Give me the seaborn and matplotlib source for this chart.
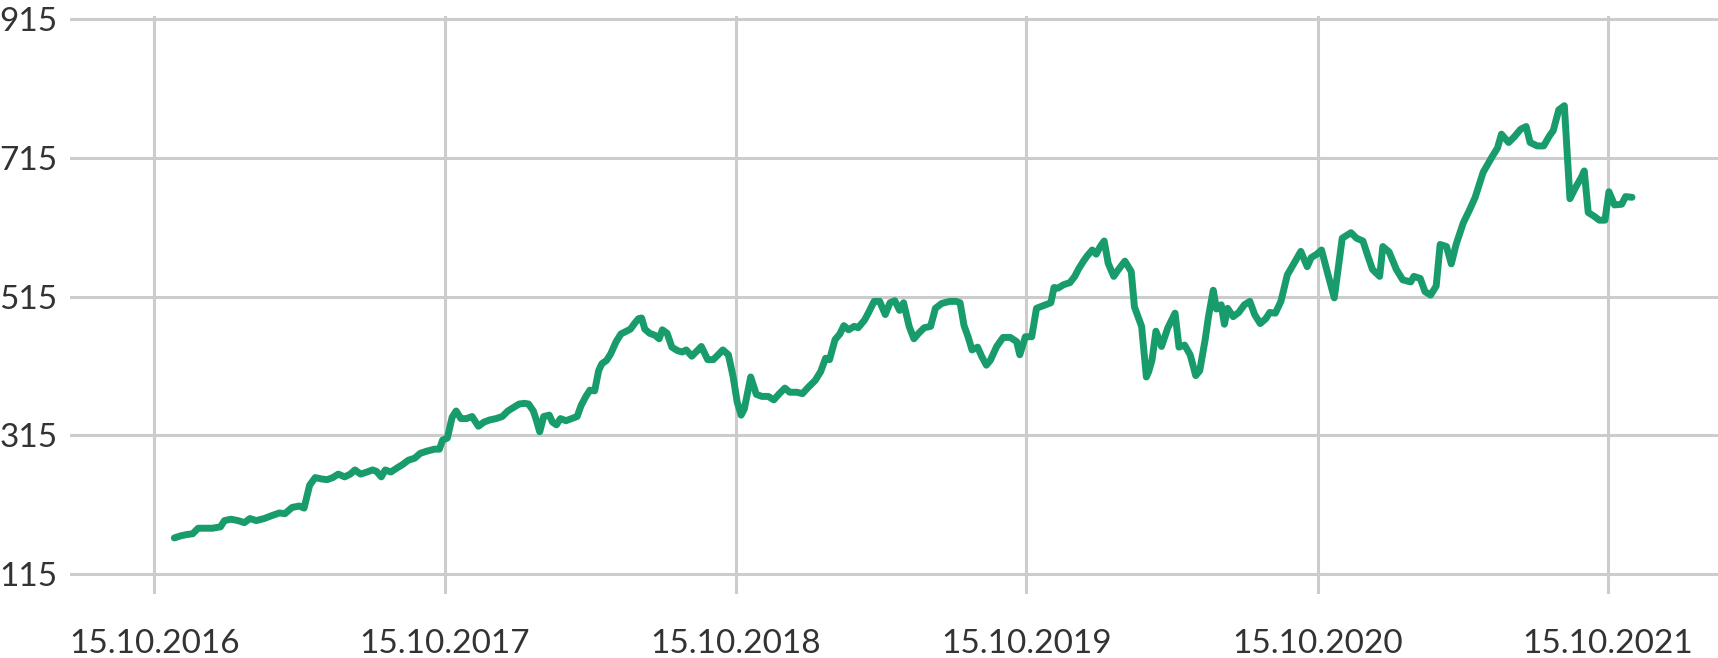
import pandas as pd
import seaborn as sns
import matplotlib.pyplot as plt

# values
dates = [
    "2016-11-09", "2016-11-17", "2016-11-25", "2016-12-02", "2016-12-09", "2016-12-19", "2016-12-27",
    "2017-01-06", "2017-01-11", "2017-01-19", "2017-01-28", "2017-02-05", "2017-02-12", "2017-02-20",
    "2017-03-02", "2017-03-11", "2017-03-21", "2017-03-28", "2017-04-06", "2017-04-15", "2017-04-21",
    "2017-04-28", "2017-05-05", "2017-05-13", "2017-05-20", "2017-05-27", "2017-06-03", "2017-06-11",
    "2017-06-18", "2017-06-24", "2017-07-01", "2017-07-09", "2017-07-16", "2017-07-21", "2017-07-27",
    "2017-08-01", "2017-08-08", "2017-08-16", "2017-08-23", "2017-08-30", "2017-09-07", "2017-09-14",
    "2017-09-22", "2017-10-02", "2017-10-08", "2017-10-12",
    "2017-10-18", "2017-10-24", "2017-10-29", "2017-11-04", "2017-11-11", "2017-11-18", "2017-11-26",
    "2017-12-03", "2017-12-10", "2017-12-18", "2017-12-26", "2018-01-02", "2018-01-09", "2018-01-16",
    "2018-01-23", "2018-01-28", "2018-02-03", "2018-02-07", "2018-02-11", "2018-02-16", "2018-02-23",
    "2018-02-27", "2018-03-04", "2018-03-09", "2018-03-16", "2018-03-23", "2018-03-30", "2018-04-04",
    "2018-04-10", "2018-04-15", "2018-04-21", "2018-04-26", "2018-04-30", "2018-05-06", "2018-05-11",
    "2018-05-18", "2018-05-24", "2018-05-31", "2018-06-05", "2018-06-10", "2018-06-15", "2018-06-19",
    "2018-06-23", "2018-06-29", "2018-07-06", "2018-07-11", "2018-07-15", "2018-07-21", "2018-07-27",
    "2018-08-03", "2018-08-09", "2018-08-14", "2018-08-21", "2018-08-28", "2018-09-02", "2018-09-10",
    "2018-09-17", "2018-09-24", "2018-09-29", "2018-10-06", "2018-10-12",
    "2018-10-17", "2018-10-22", "2018-10-26", "2018-11-03", "2018-11-10", "2018-11-17", "2018-11-25",
    "2018-12-02", "2018-12-09", "2018-12-16", "2018-12-22", "2018-12-31", "2019-01-07", "2019-01-15",
    "2019-01-23", "2019-01-30", "2019-02-05", "2019-02-10", "2019-02-17", "2019-02-23", "2019-02-28",
    "2019-03-06", "2019-03-13", "2019-03-18", "2019-03-26", "2019-04-01", "2019-04-07", "2019-04-14",
    "2019-04-21", "2019-04-27", "2019-05-03", "2019-05-09", "2019-05-14", "2019-05-21", "2019-05-27",
    "2019-06-02", "2019-06-09", "2019-06-17", "2019-06-23", "2019-07-01", "2019-07-11", "2019-07-19",
    "2019-07-24", "2019-07-29", "2019-08-03", "2019-08-08", "2019-08-15", "2019-08-20", "2019-08-26",
    "2019-08-31", "2019-09-08", "2019-09-16", "2019-09-25", "2019-10-03", "2019-10-07", "2019-10-14",
    "2019-10-22", "2019-10-28", "2019-11-06", "2019-11-15", "2019-11-19", "2019-11-24", "2019-12-01",
    "2019-12-09", "2019-12-15", "2019-12-20", "2019-12-26", "2019-12-31", "2020-01-06", "2020-01-11",
    "2020-01-16", "2020-01-21", "2020-01-26", "2020-02-02", "2020-02-08", "2020-02-16", "2020-02-24",
    "2020-02-28", "2020-03-08", "2020-03-14", "2020-03-17", "2020-03-21", "2020-03-26", "2020-04-02",
    "2020-04-10", "2020-04-19", "2020-04-24", "2020-05-01", "2020-05-08", "2020-05-15", "2020-05-20",
    "2020-05-27", "2020-05-31", "2020-06-06", "2020-06-10", "2020-06-16", "2020-06-20", "2020-06-24",
    "2020-07-01", "2020-07-08", "2020-07-15", "2020-07-22", "2020-07-28", "2020-08-04", "2020-08-11",
    "2020-08-16", "2020-08-23", "2020-08-30", "2020-09-07", "2020-09-15", "2020-09-24", "2020-10-02",
    "2020-10-07", "2020-10-14",
    "2020-10-20", "2020-10-28", "2020-11-05", "2020-11-15", "2020-11-26", "2020-12-03", "2020-12-11",
    "2020-12-17", "2020-12-23", "2021-01-01", "2021-01-05", "2021-01-13", "2021-01-22", "2021-01-30",
    "2021-02-09", "2021-02-13", "2021-02-21", "2021-02-27", "2021-03-06", "2021-03-13", "2021-03-18",
    "2021-03-26", "2021-04-01", "2021-04-07", "2021-04-16", "2021-04-24", "2021-05-01", "2021-05-11",
    "2021-05-22", "2021-05-29", "2021-06-03", "2021-06-12", "2021-06-19", "2021-06-27", "2021-07-04",
    "2021-07-09", "2021-07-18", "2021-07-26", "2021-08-02", "2021-08-07", "2021-08-14", "2021-08-21",
    "2021-08-28", "2021-09-04", "2021-09-11", "2021-09-15", "2021-09-20", "2021-09-27", "2021-10-04",
    "2021-10-11",
    "2021-10-16", "2021-10-23", "2021-11-01", "2021-11-06", "2021-11-14",
]

prices = [
    167, 170, 172, 173, 181, 181, 181,
    183, 192, 194, 192, 189, 195, 192,
    195, 199, 203, 202, 211, 213, 210,
    243, 254, 252, 251, 254, 259, 255,
    259, 265, 259, 262, 265, 263, 255,
    265, 262, 268, 273, 279, 282, 289,
    292, 295, 295, 308,
    311, 341, 350, 339, 339, 342, 328,
    334, 337, 339, 342, 350, 355, 360,
    361, 360, 350, 336, 320, 342, 344,
    334, 330, 339, 336, 339, 342, 358,
    371, 380, 379, 408, 418, 423, 432,
    450, 461, 465, 468, 476, 483, 484,
    468, 462, 459, 454, 467, 462, 442,
    437, 435, 438, 429, 437, 443, 424,
    424, 432, 438, 431, 399,
    363, 344, 353, 399, 374, 371, 371,
    366, 375, 383, 377, 377, 375, 385,
    394, 407, 426, 424, 453, 461, 473,
    467, 472, 470, 481, 494, 508, 508,
    489, 506, 509, 495, 506, 472, 454,
    462, 470, 472, 498, 505, 508, 508,
    506, 473, 457, 438, 442, 429, 416,
    423, 443, 456, 456, 450, 431, 457,
    457, 498, 502, 506, 528, 527, 532,
    535, 544, 555, 566, 574, 582, 576,
    587, 595, 563, 544, 554, 566, 551,
    500, 472, 399, 407, 423, 465, 443,
    470, 491, 442, 445, 431, 401, 408,
    454, 486, 524, 497, 503, 475, 498,
    486, 492, 503, 508, 489, 476, 483,
    492, 491, 508, 546, 562, 580, 558,
    571, 576,
    582, 547, 513, 599, 607, 599, 595,
    574, 554, 544, 587, 579, 554, 539,
    536, 544, 541, 522, 517, 530, 590,
    587, 562, 590, 621, 640, 658, 694,
    716, 729, 749, 737, 745, 756, 760,
    737, 732, 732, 746, 754, 784, 790,
    656, 672, 686, 696, 636, 631, 625,
    625,
    666, 647, 648, 659, 658,
]

y_ticks = [115, 315, 515, 715, 915]
x_ticks = ["2016-10-15", "2017-10-15", "2018-10-15", "2019-10-15", "2020-10-15", "2021-10-15"]
x_tick_labels = ["15.10.2016", "15.10.2017", "15.10.2018", "15.10.2019", "15.10.2020", "15.10.2021"]

df = pd.DataFrame({"date": pd.to_datetime(dates), "price": prices})

sns.set_theme(style="white")
plt.rcParams["font.family"] = ["Lato", "DejaVu Sans"]

fig = plt.figure(figsize=(17.18, 6.58), dpi=100)
ax = fig.add_axes([70 / 1718, 1 - 594 / 658, 1 - 70 / 1718, 578 / 658])

sns.lineplot(data=df, x="date", y="price", ax=ax, color="#199c6b",
             linewidth=5.0, solid_capstyle="round", solid_joinstyle="round", zorder=3)

ax.set_xlim(pd.Timestamp("2016-07-01"), pd.Timestamp("2022-03-02"))
ax.set_ylim(86.2, 919.3)

ax.set_yticks(y_ticks)
ax.set_yticklabels([str(v) for v in y_ticks])
ax.set_xticks(pd.to_datetime(x_ticks))
ax.set_xticklabels(x_tick_labels)

ax.grid(True, color="#cccccc", linewidth=2.2)
ax.set_axisbelow(True)
for s in ax.spines.values():
    s.set_visible(False)

ax.tick_params(axis="both", length=0, labelsize=24, labelcolor="#333333")
ax.tick_params(axis="y", pad=9)
ax.tick_params(axis="x", pad=25)

ax.set_xlabel("")
ax.set_ylabel("")

fig.savefig("out.png", dpi=100)
